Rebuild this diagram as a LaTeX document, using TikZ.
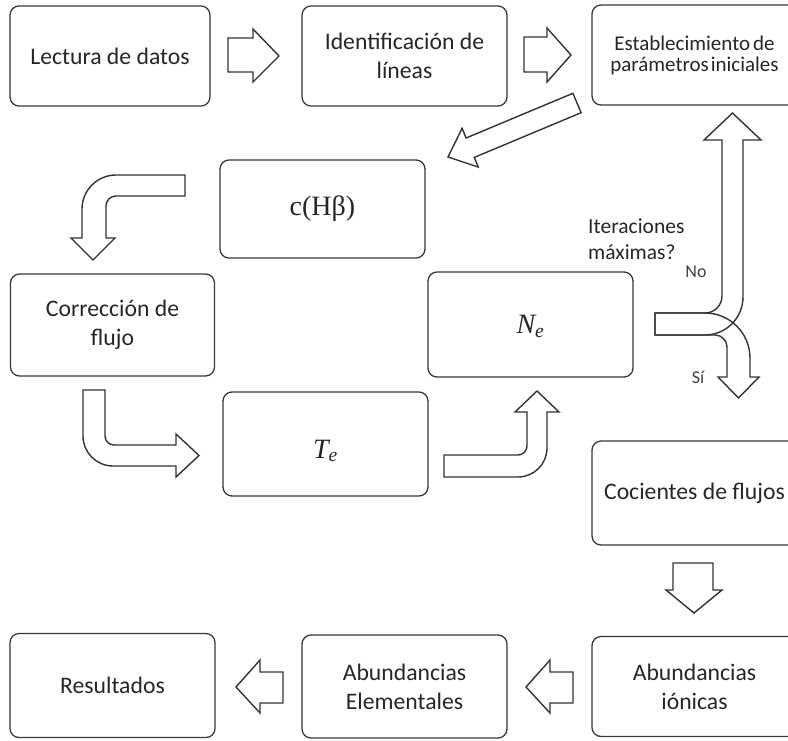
\documentclass[tikz,border=0pt]{standalone}
\usepackage{fontspec}
\setmainfont{Carlito}
\newfontfamily\serifgreek{Liberation Serif}
% italic symbol with a lowered subscript, e.g. \sym{T}{e}
\newcommand{\sym}[2]{{\serifgreek\itshape #1\textsubscript{#2}}}
\begin{document}
\begin{tikzpicture}[x=1pt,y=-1pt,
  box/.style={draw=black!78, line width=1.3pt, rounded corners=9pt,
    align=center, inner sep=0pt, text=black!85,
    font=\fontsize{23.7}{29}\selectfont},
  mathbox/.style={box, font=\fontsize{28}{32}\selectfont},
  blockarrow/.style={draw=black!80, line width=1.4pt, line join=miter, fill=white},
  openarrow/.style={blockarrow, fill=none},
  note/.style={inner sep=0pt, text=black!85, font=\fontsize{21.5}{26}\selectfont},
  tag/.style={inner sep=0pt, text=black!75, font=\fontsize{18}{20}\selectfont}]
\useasboundingbox (0,0) rectangle (788,740);
\clip (0,0) rectangle (788,740);

% process boxes
\node[box, minimum width=200pt, minimum height=100pt] (lectura) at (110,56) {Lectura de datos};
\node[box, minimum width=205pt, minimum height=100pt] (ident) at (404.5,56) {Identificación de\\líneas};
\node[box, minimum width=205pt, minimum height=100pt,
      font=\fontsize{21}{21}\selectfont] (estab) at (694.5,55)
      {Establecimiento\hspace{3pt}de\\parámetros\hspace{2pt}iniciales};
\node[box, minimum width=205pt, minimum height=98pt,
      font=\fontsize{28}{32}\selectfont] (chb) at (322.5,209) {\serifgreek c(Hβ)};
\node[box, minimum width=204pt, minimum height=102pt] (correc) at (112.5,325) {Corrección de\\flujo};
\node[mathbox, minimum width=205pt, minimum height=104pt] (te) at (325.5,444)
      {\raisebox{-7pt}[\height][\depth]{\sym{T}{e}}};
\node[mathbox, minimum width=205pt, minimum height=105pt] (ne) at (530.5,324.5)
      {\raisebox{-2pt}[\height][\depth]{\sym{N}{e}}};
\node[box, minimum width=205pt, minimum height=104pt] (cocientes) at (694.5,493) {Cocientes de flujos};
\node[box, minimum width=205pt, minimum height=100pt] (ionicas) at (694.5,686.5) {Abundancias\\iónicas};
\node[box, minimum width=205pt, minimum height=103pt] (elem) at (404.5,686.5) {Abundancias\\Elementales};
\node[box, minimum width=205pt, minimum height=104pt] (result) at (112.5,685.5) {Resultados};

% straight block arrows
\draw[blockarrow] (228,38) -- (253,38) -- (253,29) -- (279,56) -- (253,82) -- (253,72) -- (228,72) -- cycle;
\draw[blockarrow] (524,37) -- (547,37) -- (547,28) -- (571,55) -- (547,82) -- (547,72) -- (524,72) -- cycle;
\draw[blockarrow] (572.9,93.3) -- (466.1,138.0) -- (462.1,128.3) -- (448,157)
  -- (478.3,167.1) -- (474.3,157.4) -- (581.1,112.7) -- cycle;
\draw[blockarrow] (673,563) -- (713,563) -- (713,590) -- (722,590) -- (694,613) -- (666,590) -- (673,590) -- cycle;
\draw[blockarrow] (573,672) -- (550,672) -- (550,660) -- (526,687) -- (550,713) -- (550,703) -- (573,703) -- cycle;
\draw[blockarrow] (283,672) -- (260,672) -- (260,660) -- (236,687) -- (260,713) -- (260,703) -- (283,703) -- cycle;

% bent block arrows
\draw[blockarrow] (185,175) -- (116,175) arc[start angle=270,end angle=180,radius=34]
  -- (82,238) -- (71,238) -- (93,260) -- (115,238) -- (106,238) -- (106,206)
  arc[start angle=180,end angle=270,radius=10] -- (185,196) -- cycle;
\draw[blockarrow] (83,390) -- (83,436) arc[start angle=180,end angle=90,radius=30]
  -- (176,466) -- (176,477) -- (199,455.5) -- (176,434) -- (176,445) -- (114,445)
  arc[start angle=90,end angle=180,radius=9] -- (105,390) -- cycle;
\draw[blockarrow] (444,455) -- (518,455) arc[start angle=90,end angle=0,radius=9]
  -- (527,412) -- (515,412) -- (537,391) -- (559,412) -- (547,412) -- (547,448)
  arc[start angle=0,end angle=90,radius=29] -- (444,477) -- cycle;

% decision: loop back (No) or continue (Sí)
\draw[openarrow] (655,313) -- (705,313) arc[start angle=90,end angle=0,radius=17]
  -- (722,140) -- (704,140) -- (732.5,113) -- (761,140) -- (743,140) -- (743,297)
  arc[start angle=0,end angle=90,radius=38] -- (655,335) -- cycle;
\draw[openarrow] (655,313) -- (705,313) arc[start angle=270,end angle=360,radius=45]
  -- (750,377) -- (759,377) -- (738.5,398) -- (718,377) -- (727,377) -- (727,347)
  arc[start angle=0,end angle=-90,radius=12] -- (655,335) -- cycle;

\node[note, anchor=base west] (iter1) at (588,233) {Iteraciones};
\node[note, anchor=base west] (iter2) at (588,259) {máximas?};
\node[tag] (no) at (696,272) {No};
\node[tag] (si) at (698,377) {Sí};
\end{tikzpicture}
\end{document}
